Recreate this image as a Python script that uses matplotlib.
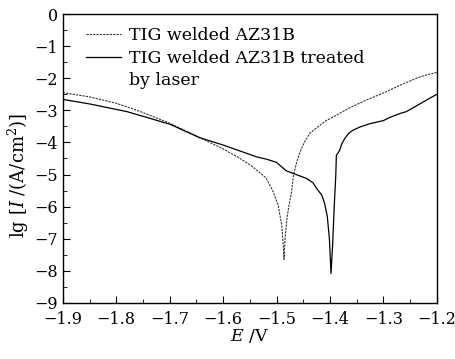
import matplotlib
matplotlib.use("Agg")
import matplotlib.pyplot as plt
from matplotlib.lines import Line2D
from matplotlib.ticker import MultipleLocator

plt.rcParams['font.family'] = ['DejaVu Serif']
plt.rcParams['mathtext.fontset'] = 'dejavuserif'

# TIG welded AZ31B (dashed)
e_tig = [-1.90, -1.85, -1.80, -1.78, -1.75, -1.70, -1.65, -1.60, -1.57, -1.545,
         -1.52, -1.507, -1.497, -1.490, -1.487, -1.486, -1.484, -1.480, -1.476,
         -1.472, -1.468, -1.462, -1.456, -1.448, -1.438, -1.42, -1.407, -1.39,
         -1.363, -1.332, -1.30, -1.269, -1.238, -1.22, -1.20]
lg_tig = [-2.45, -2.58, -2.78, -2.89, -3.07, -3.40, -3.80, -4.20, -4.48, -4.75,
          -5.10, -5.50, -5.95, -6.60, -7.30, -7.64, -7.00, -6.30, -5.90,
          -5.55, -5.00, -4.60, -4.30, -4.00, -3.72, -3.48, -3.32, -3.17,
          -2.92, -2.68, -2.46, -2.22, -2.00, -1.90, -1.82]

# TIG welded AZ31B treated by laser (solid)
e_laser = [-1.90, -1.85, -1.78, -1.70, -1.644, -1.60, -1.537, -1.519, -1.50,
           -1.482, -1.46, -1.444, -1.432, -1.425, -1.415, -1.41, -1.405, -1.401,
           -1.398, -1.395, -1.392, -1.389, -1.388, -1.385, -1.382, -1.378,
           -1.372, -1.365, -1.357, -1.344, -1.326, -1.30, -1.288, -1.269,
           -1.257, -1.238, -1.217, -1.20]
lg_laser = [-2.66, -2.80, -3.04, -3.43, -3.85, -4.08, -4.45, -4.52, -4.62,
            -4.88, -5.02, -5.12, -5.25, -5.43, -5.65, -5.90, -6.30, -7.00,
            -8.08, -7.20, -6.00, -5.00, -4.40, -4.33, -4.25, -4.05,
            -3.87, -3.72, -3.62, -3.52, -3.42, -3.32, -3.22, -3.10,
            -3.04, -2.86, -2.66, -2.50]

fig = plt.figure(figsize=(4.55, 3.59), dpi=100)
ax = fig.add_axes([0.138, 0.156, 0.822, 0.805])

l1, = ax.plot(e_tig, lg_tig, color='#333333', lw=0.8, ls=(0, (2, 1)))
l2, = ax.plot(e_laser, lg_laser, color='black', lw=0.9)

ax.set_xlim(-1.9, -1.2)
ax.set_ylim(-9, 0)
ax.xaxis.set_major_locator(MultipleLocator(0.1))
ax.xaxis.set_minor_locator(MultipleLocator(0.05))
ax.yaxis.set_major_locator(MultipleLocator(1))
ax.yaxis.set_minor_locator(MultipleLocator(0.5))
ax.xaxis.set_major_formatter(plt.FuncFormatter(lambda v, p: f'{v:.1f}'.replace('-', '\u2212')))
ax.yaxis.set_major_formatter(plt.FuncFormatter(lambda v, p: f'{v:.0f}'.replace('-', '\u2212')))
ax.tick_params(which='both', direction='in', labelsize=11.5, top=False, right=False)
ax.tick_params(axis='x', which='major', pad=6)
ax.tick_params(which='major', length=5)
ax.tick_params(which='minor', length=3)
for s in ax.spines.values():
    s.set_linewidth(1.0)

ax.set_xlabel(r'$E$ /V', fontsize=12.5, labelpad=-1)
ax.set_ylabel(r'lg [$I$ /(A/cm$^2$)]', fontsize=13)
ax.yaxis.set_label_coords(-0.085, 0.443)

# second label wraps onto a line of its own, without a handle
blank = Line2D([], [], color='none')
ax.legend([l1, l2, blank],
          ['TIG welded AZ31B', 'TIG welded AZ31B treated', 'by laser'],
          loc='upper left', frameon=False, fontsize=12.5, handlelength=2.0,
          handletextpad=0.45, borderaxespad=0.2, labelspacing=0.32,
          bbox_to_anchor=(0.035, 0.99))

fig.savefig('out.png', dpi=100)
